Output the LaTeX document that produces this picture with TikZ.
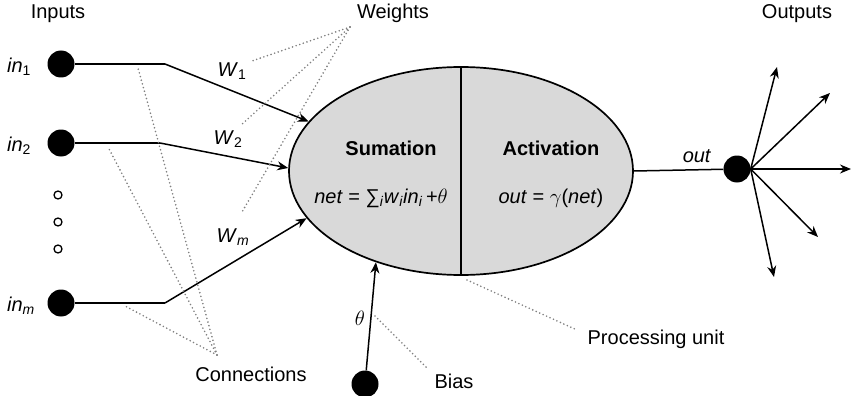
\documentclass[tikz,border=0pt]{standalone}
\usepackage{fontspec}
\setmainfont{Liberation Sans}
\usetikzlibrary{shapes.geometric,arrows.meta}
\newcommand{\sbs}[1]{\textsubscript{#1}}
\begin{document}
\begin{tikzpicture}[x=1pt,y=-1pt,font=\fontsize{20}{24}\selectfont,
    point/.style={fill,shape=circle,inner sep=0pt,minimum size=27pt},
    hollow/.style={draw,shape=circle,inner sep=0pt,minimum size=8pt,line width=1.3pt},
    wire/.style={line width=1.5pt},
    arr/.style={wire,-{Stealth[length=11pt,width=9pt]}},
    guide/.style={black!50,line width=1.8pt,line cap=round,dash pattern=on 0pt off 3.8pt},
    head/.style={font=\bfseries\fontsize{20}{24}\selectfont}]
    \useasboundingbox (0,0) rectangle (852,396);
    % 入力
    \node (inputs) at (58,14) {Inputs};
    \node[point] (in1) at (61,64) {};
    \node[point] (in2) at (61,143) {};
    \node[point] (inm) at (61,303) {};
    \foreach \y/\n in {195/a,222/b,249/c}
        \node[hollow] (dot\n) at (58,\y) {};
    \node (lin1) at (19,67) {\textit{in}\sbs{1}};
    \node (lin2) at (19,146) {\textit{in}\sbs{2}};
    \node (linm) at (21,306) {\textit{in}\sbs{\textit{m}}};
    % 処理ユニット
    \node[ellipse,draw,line width=1.7pt,fill=black!15,minimum width=344pt,
          minimum height=208pt,inner sep=0pt] (unit) at (461,171) {};
    \draw[line width=1.7pt] (unit.north) -- (unit.south);
    \node[head] (sum) at (391,148) {Sumation};
    \node (net) at (381,198) {\textit{net} = ∑\sbs{\textit{i}}\textit{w}\sbs{\textit{i}}\textit{in}\sbs{\textit{i}}\,+$\theta$};
    \node[head] (act) at (551,148) {Activation};
    \node (outf) at (551,198) {\textit{out} = $\gamma$(\textit{net})};
    % 結合と重み
    \coordinate (b1) at (165,64);
    \coordinate (b2) at (160,143);
    \coordinate (bm) at (165,303);
    \draw[wire] (in1) -- (b1);
    \draw[wire] (in2) -- (b2);
    \draw[wire] (inm) -- (bm);
    \draw[arr] (b1) -- (unit.162);
    \draw[arr] (b2) -- (unit.179);
    \draw[arr] (bm) -- (unit.197);
    \node (w1) at (232,71) {\textit{W}\sbs{1}};
    \node (w2) at (228,139) {\textit{W}\sbs{2}};
    \node (wm) at (233,237) {\textit{W}\sbs{\textit{m}}};
    % バイアス
    \node[point] (bias) at (365,384) {};
    \draw[arr] (bias) -- (unit.227);
    \node (theta) at (360,318) {$\theta$};
    % 出力
    \node[point] (o) at (737,169) {};
    \draw[wire] (unit.east) -- (o);
    \node (lout) at (697,156) {\textit{out}};
    \foreach \n/\x/\y in {1/777/67,2/830/93,3/851/169,4/818/237,5/774/277}{
        \coordinate (t\n) at (\x,\y);
        \draw[arr] (o.east) -- (t\n);
    }
    \node (outputs) at (797,14) {Outputs};
    % 注記（点線）
    \node (weights) at (393,13) {Weights};
    \coordinate (wt) at (350,27);
    \coordinate (we1) at (252,61);
    \coordinate (we2) at (241,125);
    \coordinate (wem) at (242,212);
    \foreach \e in {we1,we2,wem} \draw[guide] (wt) -- (\e);
    \node (conn) at (251,374) {Connections};
    \coordinate (ct) at (217,355);
    \coordinate (ce1) at (138,68);
    \coordinate (ce2) at (108,147);
    \coordinate (cem) at (125,306);
    \foreach \e in {ce1,ce2,cem} \draw[guide] (ct) -- (\e);
    \node (lbias) at (454,381) {Bias};
    \coordinate (bt) at (375,316);
    \coordinate (be) at (428,369);
    \draw[guide] (bt) -- (be);
    \node (proc) at (656,339) {Processing unit};
    \coordinate (pt) at (467,280);
    \coordinate (pe) at (577,330);
    \draw[guide] (pt) -- (pe);
\end{tikzpicture}
\end{document}
